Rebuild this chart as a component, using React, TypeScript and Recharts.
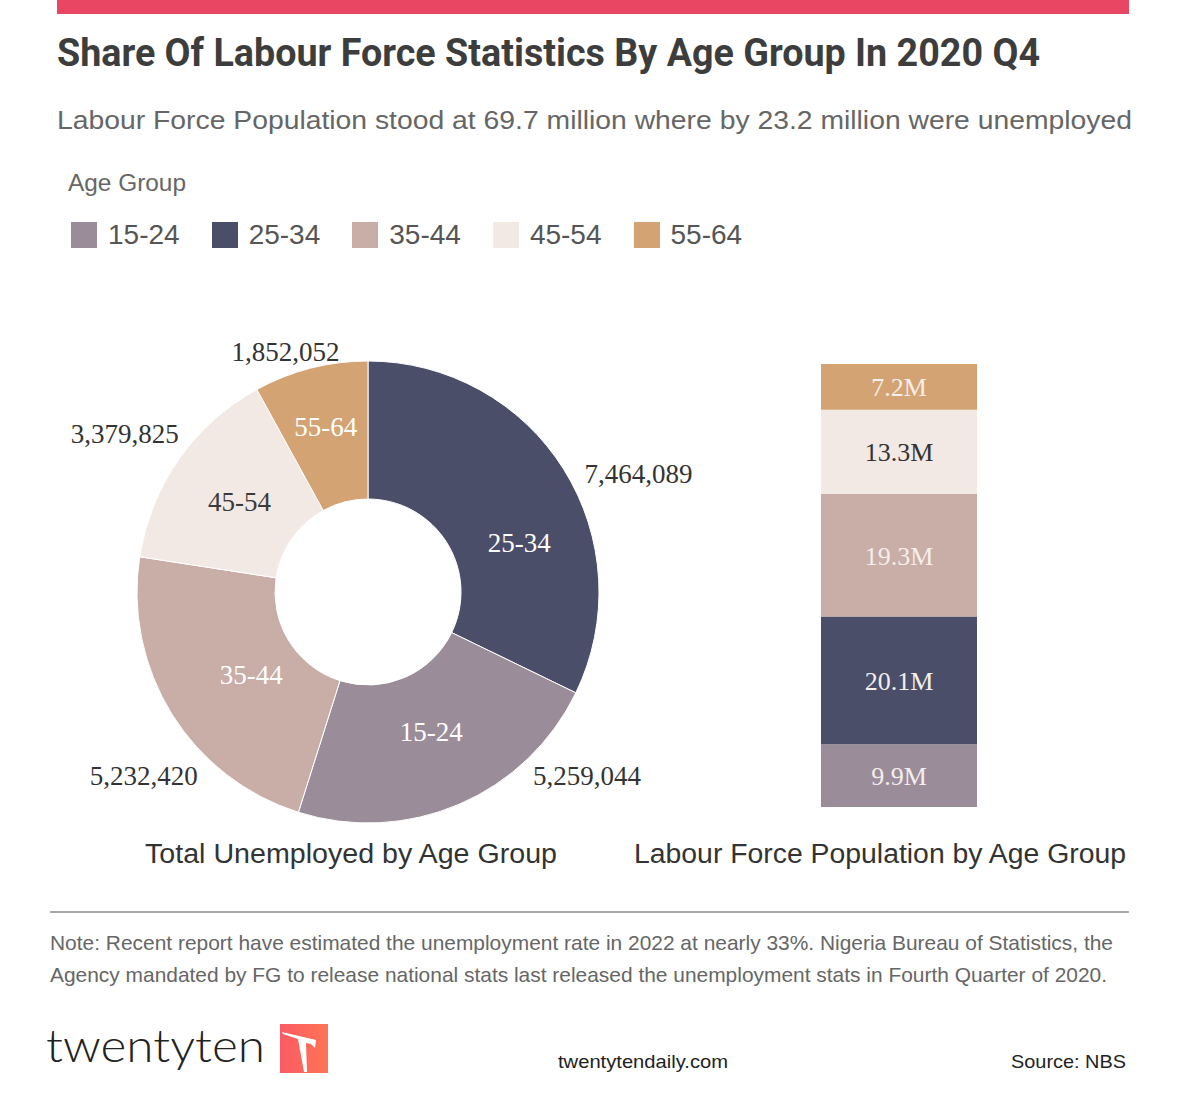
import React from 'react';
import { PieChart, Pie, Cell, BarChart, Bar, XAxis, YAxis, LabelList } from 'recharts';

// ---- data ----
const ageGroups = ['15-24', '25-34', '35-44', '45-54', '55-64'];
const unemployed = [5259044, 7464089, 5232420, 3379825, 1852052];
const labourForceMillions = [9.9, 20.1, 19.3, 13.3, 7.2];

const titleText = 'Share Of Labour Force Statistics By Age Group In 2020 Q4';
const subtitleText = 'Labour Force Population stood at 69.7 million where by 23.2 million were unemployed';
const noteLines = [
  'Note: Recent report have estimated the unemployment rate in 2022 at nearly 33%. Nigeria Bureau of Statistics, the',
  'Agency mandated by FG to release national stats last released the unemployment stats in Fourth Quarter of 2020.',
];

// ---- styles ----
const COLORS: Record<string, string> = {
  '15-24': '#9a8c98',
  '25-34': '#4a4e69',
  '35-44': '#c9ada7',
  '45-54': '#f2e9e4',
  '55-64': '#d4a373',
};
const INNER_TEXT: Record<string, string> = {
  '15-24': '#ffffff',
  '25-34': '#ffffff',
  '35-44': '#ffffff',
  '45-54': '#3a3a3a',
  '55-64': '#ffffff',
};
const BAR_TEXT: Record<string, string> = {
  '15-24': '#f4eeec',
  '25-34': '#f4eeec',
  '35-44': '#f4eeec',
  '45-54': '#333333',
  '55-64': '#f4eeec',
};
// label layout tweaks (angle shift in degrees, radial offset in px)
const OUTER_LABEL_LAYOUT: Record<string, { da: number; dr: number }> = {
  '25-34': { da: -8.5, dr: 64 },
  '15-24': { da: 26.7, dr: 55 },
  '35-44': { da: 7.5, dr: 59 },
  '45-54': { da: 2, dr: 59 },
  '55-64': { da: 4.6, dr: 23 },
};
const INNER_LABEL_LAYOUT: Record<string, { da: number; dr: number }> = {
  '25-34': { da: -14, dr: -3 },
  '15-24': { da: 1, dr: -8 },
  '35-44': { da: 3.5, dr: -19 },
  '45-54': { da: 0, dr: -5 },
  '55-64': { da: 0, dr: 8 },
};

const pieData = ageGroups
  .map((g, i) => ({ name: g, value: unemployed[i] }))
  .sort((a, b) => b.value - a.value);

const barRow: Record<string, any> = { name: 'Labour Force' };
ageGroups.forEach((g, i) => {
  barRow[g] = labourForceMillions[i];
});
const barData = [barRow];

const RAD = Math.PI / 180;
const SERIF = '"Liberation Serif", "DejaVu Serif", serif';
const SANS = 'Roboto, "Liberation Sans", Arial, sans-serif';
const ARIAL = '"Liberation Sans", Arial, sans-serif';

const renderPieLabel = (props: any) => {
  const { cx, cy, midAngle, innerRadius, outerRadius, name, value } = props;
  const lo = OUTER_LABEL_LAYOUT[name];
  const ao = (midAngle + lo.da) * RAD;
  const ro = outerRadius + lo.dr;
  const xo = cx + ro * Math.cos(-ao);
  const yo = cy + ro * Math.sin(-ao);
  const li = INNER_LABEL_LAYOUT[name];
  const ai = (midAngle + li.da) * RAD;
  const ri = (innerRadius + outerRadius) / 2 + li.dr;
  const xi = cx + ri * Math.cos(-ai);
  const yi = cy + ri * Math.sin(-ai);
  return (
    <g>
      <text x={xo} y={yo} textAnchor="middle" dominantBaseline="central" fill="#333" fontFamily={SERIF} fontSize={27}>
        {Number(value).toLocaleString('en-US')}
      </text>
      <text x={xi} y={yi} textAnchor="middle" dominantBaseline="central" fill={INNER_TEXT[name]} fontFamily={SERIF} fontSize={27}>
        {name}
      </text>
    </g>
  );
};

export default function App() {
  return (
    <div
      style={{
        position: 'absolute',
        left: 0,
        top: 0,
        width: 1183,
        height: 1117,
        background: '#ffffff',
        fontFamily: SANS,
        overflow: 'hidden',
      }}
    >
      <div style={{ position: 'absolute', left: 57, top: 0, width: 1072, height: 14, background: '#e84663' }} />

      <svg width={1183} height={1117} style={{ position: 'absolute', left: 0, top: 0 }}>
        <text x={57} y={66} fontFamily={SANS} fontWeight={700} fontSize={39} fill="#3d3d3d" textLength={983} lengthAdjust="spacingAndGlyphs">
          {titleText}
        </text>
        <text x={57} y={129} fontFamily={ARIAL} fontSize={26} fill="#666" textLength={1075} lengthAdjust="spacingAndGlyphs">
          {subtitleText}
        </text>
        <text x={68} y={191} fontFamily={ARIAL} fontSize={23} fill="#666" textLength={118} lengthAdjust="spacingAndGlyphs">
          Age Group
        </text>
        <text x={351} y={863} textAnchor="middle" fontFamily={ARIAL} fontSize={27} fill="#333" textLength={412} lengthAdjust="spacingAndGlyphs">
          Total Unemployed by Age Group
        </text>
        <text x={880} y={863} textAnchor="middle" fontFamily={ARIAL} fontSize={27} fill="#333" textLength={492} lengthAdjust="spacingAndGlyphs">
          Labour Force Population by Age Group
        </text>
        <line x1={50} x2={1129} y1={912} y2={912} stroke="#aaaaaa" strokeWidth={2} />
        <text x={50} y={950} fontFamily={ARIAL} fontSize={21} fill="#666" textLength={1063} lengthAdjust="spacingAndGlyphs">
          {noteLines[0]}
        </text>
        <text x={50} y={982} fontFamily={ARIAL} fontSize={21} fill="#666" textLength={1057} lengthAdjust="spacingAndGlyphs">
          {noteLines[1]}
        </text>
        <text x={46} y={1062} fontFamily="Lato, sans-serif" fontWeight={300} fontSize={46} fill="#222" textLength={219} lengthAdjust="spacingAndGlyphs">
          twentyten
        </text>
        <defs>
          <linearGradient id="logoGrad" x1="0" x2="1" y1="0" y2="0">
            <stop offset="0%" stopColor="#fb5b64" />
            <stop offset="100%" stopColor="#fe7454" />
          </linearGradient>
        </defs>
        <g transform="translate(280,1024)">
          <rect x={0} y={0} width={48} height={49} fill="url(#logoGrad)" />
          <polygon points="2,8 36,16 35,24 31,20 26,19 27,48 24,48 18,15 3,10" fill="#ffffff" />
        </g>
        <text x={558} y={1068} fontFamily={ARIAL} fontSize={19} fill="#222" textLength={170} lengthAdjust="spacingAndGlyphs">
          twentytendaily.com
        </text>
        <text x={1011} y={1068} fontFamily={ARIAL} fontSize={19} fill="#222" textLength={115} lengthAdjust="spacingAndGlyphs">
          Source: NBS
        </text>
      </svg>

      <div style={{ position: 'absolute', left: 71, top: 221, display: 'flex', alignItems: 'center' }}>
        {ageGroups.map((g) => (
          <div key={g} style={{ display: 'flex', alignItems: 'center', marginRight: 32 }}>
            <div style={{ width: 26, height: 26, background: COLORS[g], marginRight: 11 }} />
            <span style={{ fontSize: 28, color: '#555', lineHeight: '28px', fontFamily: ARIAL }}>{g}</span>
          </div>
        ))}
      </div>

      <div style={{ position: 'absolute', left: 0, top: 280 }}>
        <PieChart width={760} height={600} margin={{ top: 0, right: 0, bottom: 0, left: 0 }}>
          <Pie
            data={pieData}
            dataKey="value"
            nameKey="name"
            cx={368}
            cy={312}
            innerRadius={93}
            outerRadius={231}
            startAngle={90}
            endAngle={-270}
            stroke="#ffffff"
            strokeWidth={1}
            label={renderPieLabel}
            labelLine={false}
            isAnimationActive={false}
          >
            {pieData.map((d) => (
              <Cell key={d.name} fill={COLORS[d.name]} />
            ))}
          </Pie>
        </PieChart>
      </div>

      <div style={{ position: 'absolute', left: 821, top: 364 }}>
        <BarChart width={156} height={443} data={barData} margin={{ top: 0, right: 0, bottom: 0, left: 0 }} barCategoryGap={0}>
          <XAxis dataKey="name" hide />
          <YAxis hide domain={[0, 'dataMax']} />
          {ageGroups.map((g) => (
            <Bar key={g} dataKey={g} stackId="lf" fill={COLORS[g]} isAnimationActive={false}>
              <LabelList
                dataKey={g}
                position="center"
                formatter={(v: any) => `${v}M`}
                fill={BAR_TEXT[g]}
                fontFamily={SERIF}
                fontSize={26}
              />
            </Bar>
          ))}
        </BarChart>
      </div>
    </div>
  );
}
